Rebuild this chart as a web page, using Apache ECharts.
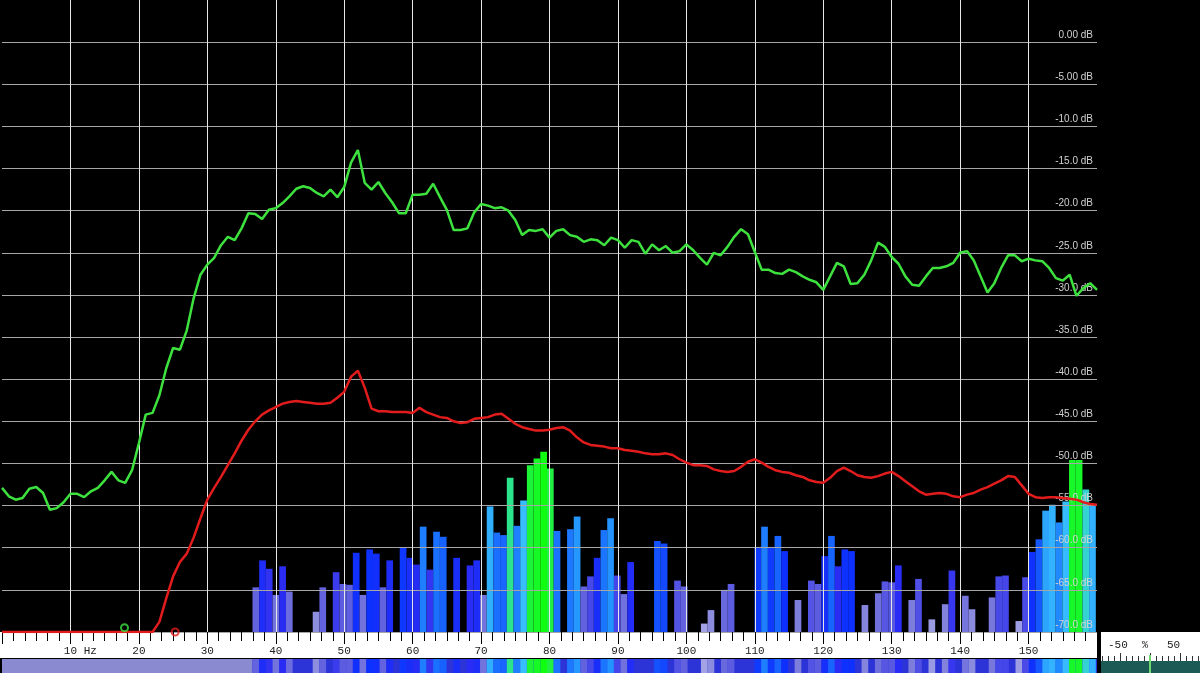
<!DOCTYPE html>
<html>
<head>
<meta charset="utf-8">
<title>Spectrum</title>
<script src="https://cdn.jsdelivr.net/npm/echarts@6/dist/echarts.min.js"></script>
<style>
  html, body { margin: 0; padding: 0; background: #000; }
  #main { width: 1200px; height: 673px; }
</style>
</head>
<body>
<div id="main"></div>
<script>
// curves sampled every 1 Hz, 0..160 Hz
var lineHz = []
for (var f = 0; f <= 160; f++) lineHz.push(f)

var greenDb = [
  -52.9, -53.9, -54.3, -54.1, -53.0, -52.8, -53.5, -55.5, -55.3, -54.6,
  -53.6, -53.6, -54.0, -53.3, -52.9, -52.0, -51.0, -52.0, -52.3, -50.8,
  -47.6, -44.2, -44.0, -41.9, -38.7, -36.3, -36.5, -34.2, -30.4, -27.6,
  -26.4, -25.6, -24.1, -23.1, -23.5, -22.1, -20.3, -20.4, -21.0, -19.9,
  -19.7, -19.1, -18.3, -17.4, -17.1, -17.3, -17.9, -18.3, -17.5, -18.4,
  -17.2, -14.3, -12.8, -16.7, -17.5, -16.6, -17.9, -19.0, -20.3, -20.3,
  -18.1, -18.1, -18.0, -16.8, -18.4, -19.9, -22.3, -22.3, -22.1, -20.2,
  -19.2, -19.4, -19.7, -19.6, -20.0, -21.1, -22.9, -22.3, -22.4, -22.2,
  -23.2, -22.4, -22.2, -22.9, -23.1, -23.7, -23.4, -23.5, -24.1, -23.2,
  -23.5, -24.4, -23.5, -23.7, -25.1, -24.0, -24.7, -24.2, -25.0, -24.8,
  -24.0, -24.7, -25.6, -26.4, -25.0, -25.3, -24.3, -23.1, -22.2, -22.8,
  -24.9, -27.0, -27.0, -27.4, -27.5, -27.0, -27.3, -27.8, -28.2, -28.5,
  -29.4, -27.8, -26.2, -26.6, -28.7, -28.6, -27.6, -25.9, -23.8, -24.3,
  -25.5, -26.3, -27.8, -28.8, -28.9, -27.8, -26.8, -26.8, -26.6, -26.2,
  -25.0, -24.8, -25.9, -27.8, -29.7, -28.6, -26.8, -25.3, -25.3, -26.0,
  -25.7, -25.9, -26.0, -26.8, -28.0, -28.3, -27.6, -30.1, -29.2, -28.6,
  -29.4
]

var redDb = [
  -70, -70, -70, -70, -70, -70, -70, -70, -70, -70,
  -70, -70, -70, -70, -70, -70, -70, -70, -70, -70,
  -70, -70, -70, -68.8, -66.0, -63.4, -61.7, -60.7, -58.8, -56.5,
  -54.3, -52.9, -51.6, -50.2, -48.8, -47.3, -46.0, -45.0, -44.2, -43.7,
  -43.3, -42.9, -42.7, -42.6, -42.7, -42.8, -42.9, -42.9, -42.8, -42.2,
  -41.5, -39.7, -39.0, -41.0, -43.5, -43.8, -43.8, -43.9, -43.9, -43.9,
  -44.0, -43.4, -43.9, -44.2, -44.5, -44.6, -45.0, -45.2, -45.1, -44.7,
  -44.6, -44.5, -44.2, -44.1, -44.7, -45.3, -45.7, -45.9, -46.1, -46.1,
  -46.0, -45.8, -45.7, -46.1, -46.9, -47.5, -47.8, -47.9, -48.0, -48.2,
  -48.2, -48.4, -48.5, -48.6, -48.8, -48.9, -48.9, -48.8, -49.0, -49.5,
  -49.9, -50.2, -50.2, -50.3, -50.7, -50.9, -51.0, -50.9, -50.4, -49.8,
  -49.5, -49.9, -50.4, -50.8, -51.0, -51.1, -51.4, -51.6, -52.0, -52.2,
  -52.3, -51.7, -50.9, -50.5, -50.9, -51.4, -51.6, -51.7, -51.5, -51.2,
  -51.0, -51.5, -52.1, -52.7, -53.3, -53.7, -53.6, -53.5, -53.6, -53.9,
  -54.0, -53.7, -53.5, -53.1, -52.8, -52.4, -52.0, -51.5, -51.6, -52.6,
  -53.6, -54.0, -54.1, -54.0, -54.0, -54.1, -54.2, -54.3, -54.6, -54.8,
  -54.9
]

// level bars: bins of 0.978 Hz starting at 36.6 Hz, null = no bar
var binStart = 36.6
var binWidth = 0.978
var barDb = [
  -64.7, -61.5, -62.5, -65.6, -62.2, -65.2, null, null, null, -67.6,
  -64.7, null, -62.9, -64.3, -64.4, -60.6, -65.6, -60.2, -60.7, -64.7,
  -61.5, null, -60.0, -61.2, -62.0, -57.5, -62.6, -58.1, -58.7, null,
  -61.2, null, -62.1, -61.5, -65.6, -55.1, -58.2, -58.5, -51.7, -57.4,
  -54.4, -50.2, -49.4, -48.6, -50.6, -58.0, null, -57.8, -56.3, -64.6,
  -63.4, -61.2, -57.9, -56.5, -63.3, -65.5, -61.7, null, null, null,
  -59.2, -59.5, null, -63.9, -64.6, null, null, -69.0, -67.4, null,
  -65.0, -64.3, null, null, null, -59.9, -57.5, -59.9, -58.6, -60.4,
  null, -66.2, null, -63.9, -64.3, -61.0, -58.6, -62.2, -60.2, -60.4,
  null, -66.8, null, -65.4, -64.0, -64.1, -62.1, null, -66.2, -63.7,
  null, -68.5, null, -66.7, -62.7, null, -65.7, -67.3, null, null,
  -65.9, -63.4, -63.3, null, -68.7, -63.5, -60.5, -59.0, -55.6, -54.9,
  -57.0, -54.5, -49.6, -49.6, -53.1, -55.0
]

// cursor markers
var greenMark = [17.9, -69.5]
var redMark = [25.3, -70]

var yTicks = [0, -5, -10, -15, -20, -25, -30, -35, -40, -45, -50, -55, -60, -65, -70]

var floorDb = -70

var myChart = echarts.init(document.getElementById('main'))

var greenData = lineHz.map(function (f, i) { return [f, greenDb[i]] })
var redData = lineHz.map(function (f, i) { return [f, redDb[i]] })
var barData = []
barDb.forEach(function (v, i) {
  if (v == null) return
  barData.push([binStart + binWidth * (i + 0.5), v - floorDb, v])
})
var stripData = barData.map(function (d) { return [d[0], 1, d[2]] })

// little percent meter in the corner
var meter = [
  { type: 'rect', shape: { x: 1101, y: 632, width: 99, height: 41 }, style: { fill: '#fff' } },
  { type: 'rect', shape: { x: 1101, y: 661, width: 99, height: 12 }, style: { fill: '#1c5a55' } },
  { type: 'text', x: 1108, y: 640, style: { text: '-50', font: '11px "Liberation Mono"', fill: '#222' } },
  { type: 'text', x: 1142, y: 640, style: { text: '%', font: '10px "Liberation Mono"', fill: '#222' } },
  { type: 'text', x: 1167, y: 640, style: { text: '50', font: '11px "Liberation Mono"', fill: '#222' } }
]
for (var t = 0; t <= 16; t++) {
  var tx = 1102.5 + t * 6
  var tall = (t % 5 === 3)
  meter.push({ type: 'line', shape: { x1: tx, y1: tall ? 653 : 656, x2: tx, y2: 661 }, style: { stroke: '#333', lineWidth: 1 } })
}
meter.push({ type: 'rect', shape: { x: 1149, y: 655, width: 2, height: 18 }, style: { fill: '#6fd86f' } })

myChart.setOption({
  backgroundColor: '#000',
  animation: false,
  graphic: {
    elements: [
      // ruler strip under the plot
      { type: 'rect', z: 0, shape: { x: 0, y: 632, width: 1097, height: 26 }, style: { fill: '#fff' } }
    ].concat(meter)
  },
  grid: [
    { left: 2, right: 103, top: 0, height: 632 },
    { left: 2, right: 103, top: 659, height: 14, show: true, backgroundColor: '#8a8ad0', borderWidth: 0 }
  ],
  visualMap: {
    type: 'continuous',
    show: false,
    dimension: 2,
    seriesIndex: [0, 4],
    min: -70,
    max: -48.6,
    inRange: {
      color: ['#b0b0ea', '#9494e0', '#7c7cdc', '#5a5ae0', '#2a2cf4', '#0c30ff',
        '#1a6cff', '#2496ff', '#38bcff', '#34dcc0', '#20f040', '#10ff10']
    }
  },
  xAxis: [
    {
      type: 'value',
      gridIndex: 0,
      min: 0,
      max: 160,
      interval: 10,
      z: 4,
      axisLine: { show: false, onZero: false },
      axisTick: { show: true, length: 12, lineStyle: { color: '#000' } },
      minorTick: { show: true, splitNumber: 6, length: 9, lineStyle: { color: '#000' } },
      axisLabel: {
        margin: 14,
        color: '#222',
        fontSize: 11,
        fontFamily: 'Liberation Mono',
        showMinLabel: false,
        showMaxLabel: false,
        formatter: function (v) { return v === 10 ? '   10 Hz' : String(v) }
      },
      splitLine: { show: true, showMinLine: false, showMaxLine: false, lineStyle: { color: '#e6e6e6', width: 1 } }
    },
    { type: 'value', gridIndex: 1, min: 0, max: 160, show: false }
  ],
  yAxis: [
    {
      type: 'value',
      gridIndex: 0,
      position: 'right',
      min: -70,
      max: 5,
      interval: 5,
      z: 4,
      axisLine: { show: false },
      axisTick: { show: false },
      axisLabel: {
        inside: true,
        margin: 4,
        verticalAlign: 'bottom',
        padding: [0, 0, 2, 0],
        color: '#d2d2d2',
        fontSize: 10,
        fontFamily: 'Liberation Sans',
        showMaxLabel: false,
        formatter: function (v) {
          if (yTicks.indexOf(v) < 0) return ''
          return (v > -10 ? v.toFixed(2) : v.toFixed(1)) + ' dB'
        }
      },
      splitLine: { show: true, showMaxLine: false, lineStyle: { color: '#a6a6a6', width: 1 } }
    },
    { type: 'value', gridIndex: 0, min: 0, max: 75, show: false },
    { type: 'value', gridIndex: 1, min: 0, max: 1, show: false }
  ],
  series: [
    {
      name: 'level',
      type: 'bar',
      xAxisIndex: 0,
      yAxisIndex: 1,
      barWidth: 6.7,
      z: 2,
      data: barData
    },
    {
      name: 'peak',
      type: 'line',
      xAxisIndex: 0,
      yAxisIndex: 0,
      showSymbol: false,
      z: 6,
      lineStyle: { color: '#3ee23e', width: 2.5 },
      data: greenData
    },
    {
      name: 'average',
      type: 'line',
      xAxisIndex: 0,
      yAxisIndex: 0,
      showSymbol: false,
      z: 6,
      lineStyle: { color: '#e21c1c', width: 2.5 },
      data: redData
    },
    {
      name: 'cursors',
      type: 'scatter',
      xAxisIndex: 0,
      yAxisIndex: 0,
      symbol: 'circle',
      symbolSize: 7,
      z: 7,
      data: [
        { value: greenMark, itemStyle: { color: 'rgba(0,0,0,0)', borderColor: '#3ee23e', borderWidth: 2 } },
        { value: redMark, itemStyle: { color: 'rgba(0,0,0,0)', borderColor: '#e21c1c', borderWidth: 2 } }
      ]
    },
    {
      name: 'history',
      type: 'bar',
      xAxisIndex: 1,
      yAxisIndex: 2,
      barWidth: 6.7,
      data: stripData,
      markArea: {
        silent: true,
        itemStyle: { color: '#2c34d8' },
        data: [[{ xAxis: binStart }, { xAxis: 160 }]]
      }
    }
  ]
})
</script>
</body>
</html>
